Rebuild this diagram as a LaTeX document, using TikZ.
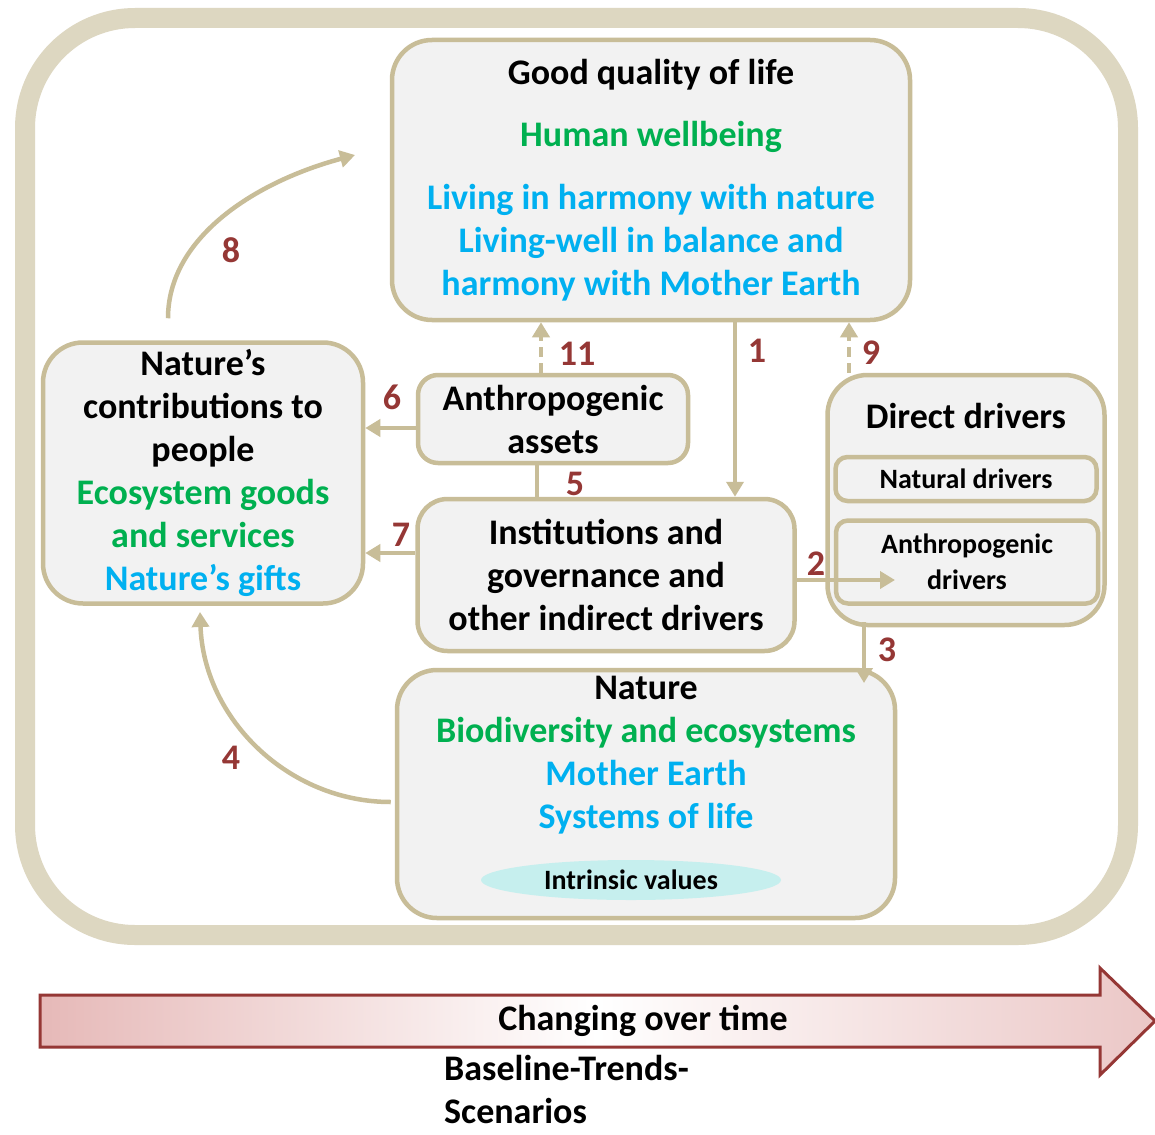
\documentclass[tikz,border=0pt]{standalone}
\usepackage{fontspec}
\setmainfont{Carlito}
\usetikzlibrary{shapes,arrows.meta}
\definecolor{bordertan}{HTML}{C8BD98}
\definecolor{frametan}{HTML}{DDD7C1}
\definecolor{boxgray}{HTML}{F2F2F2}
\definecolor{hwgreen}{HTML}{00B050}
\definecolor{hwblue}{HTML}{00B0F0}
\definecolor{numred}{HTML}{953735}
\definecolor{intrcyan}{HTML}{C6EFEE}
\definecolor{timepink}{HTML}{E6B9B8}
\begin{document}
\begin{tikzpicture}[x=1pt,y=-1pt,
    font=\fontsize{36}{43}\selectfont\bfseries,
    box/.style={draw=bordertan,line width=4.5pt,fill=boxgray,rounded corners=40pt,align=center,inner sep=0pt},
    subbox/.style={box,rounded corners=12pt,font=\fontsize{28}{36}\selectfont\bfseries},
    num/.style={text=numred},
    conn/.style={draw=bordertan,line width=4.5pt,-{Triangle[length=15pt,width=17pt]}},
    plainconn/.style={draw=bordertan,line width=4.5pt},
    dashconn/.style={conn,dash pattern=on 10pt off 6pt}]
		\useasboundingbox (0,0) rectangle (1155,1134);
		\fill[white] (0,0) rectangle (1155,1134);
		\draw[draw=frametan,line width=20pt,rounded corners=110pt] (25,18) rectangle (1128,935);
		\node[box,minimum width=518pt,minimum height=280pt] (quality) at (651,180)
			{Good quality of life\\[19pt]
			\textcolor{hwgreen}{Human wellbeing}\\[20pt]
			\textcolor{hwblue}{Living in harmony with nature}\\
			\textcolor{hwblue}{Living-well in balance and}\\
			\textcolor{hwblue}{harmony with Mother Earth}};
		\node[box,minimum width=320pt,minimum height=261pt] (ncp) at (203,473)
			{Nature’s\\contributions to\\people\\
			\textcolor{hwgreen}{Ecosystem goods}\\
			\textcolor{hwgreen}{and services}\\
			\textcolor{hwblue}{Nature’s gifts}};
		\node[box,rounded corners=20pt,minimum width=270pt,minimum height=88pt] (assets) at (553,419) {Anthropogenic\\assets};
		\node[box,rounded corners=30pt,minimum width=377pt,minimum height=152pt] (inst) at (606,575) {Institutions and\\governance and\\other indirect drivers};
		\node[box,minimum width=277pt,minimum height=250pt] (direct) at (966,500) {};
		\node (directtext) at (966,416) {Direct drivers};
		\node[subbox,minimum width=261pt,minimum height=44pt] (natural) at (966,479) {Natural drivers};
		\node[subbox,minimum width=262pt,minimum height=83pt] (anthdrv) at (967,562) {Anthropogenic\\drivers};
		\node[box,minimum width=498pt,minimum height=248pt] (nature) at (646,794) {};
		\node[align=center] (naturetext) at (646,755)
			{Nature\\
			\textcolor{hwgreen}{Biodiversity and ecosystems}\\
			\textcolor{hwblue}{Mother Earth}\\
			\textcolor{hwblue}{Systems of life}};
		\node[ellipse,fill=intrcyan,minimum width=300pt,minimum height=40pt,inner sep=0pt,font=\fontsize{28}{34}\selectfont\bfseries] (intrinsic) at (631,880) {Intrinsic values};
		\coordinate (qualin) at (355,155);
		\coordinate (ncpin) at (200,612);
		\coordinate (drvin) at (895,580);
		\coordinate (natin) at (864,683);
		\draw[conn] ([xshift=84pt]quality.south) -- ([xshift=84pt]quality.south |- inst.north);
		\draw[dashconn] ([xshift=-12pt]assets.north) -- ([xshift=-12pt]assets.north |- quality.south);
		\draw[dashconn] ([xshift=-117pt]direct.north) -- ([xshift=-117pt]direct.north |- quality.south);
		\draw[conn] ([yshift=-9pt]assets.west) -- ([yshift=-9pt]assets.west -| ncp.east);
		\draw[plainconn] ([xshift=-69pt]inst.north) -- ([xshift=-69pt]inst.north |- assets.south);
		\draw[conn] ([yshift=22pt]inst.west) -- ([yshift=22pt]inst.west -| ncp.east);
		\draw[conn] ([yshift=-5pt]inst.east) -- (drvin);
		\draw[conn] ([xshift=-102pt,yshift=5pt]direct.south) -- (natin);
		\draw[conn,shorten <=22pt] ([xshift=-35pt]ncp.north) to[out=90,in=195] (qualin);
		\draw[conn,shorten <=4pt] ([yshift=-8pt]nature.west) to[out=180,in=-88] (ncpin);
		\node[num] (n1) at (757,351) {1};
		\node[num] (n2) at (816,564) {2};
		\node[num] (n3) at (887,650) {3};
		\node[num] (n4) at (231,758) {4};
		\node[num] (n5) at (575,484) {5};
		\node[num] (n6) at (392,397) {6};
		\node[num] (n7) at (401,535) {7};
		\node[num] (n8) at (231,250) {8};
		\node[num] (n9) at (871,353) {9};
		\node[num] (n11) at (577,354) {11};
		\draw[draw=numred,line width=3pt,left color=timepink,right color=timepink!80,middle color=white]
			(40,995) -- (1100,995) -- (1100,968) -- (1155,1021) -- (1100,1075) -- (1100,1047) -- (40,1047) -- cycle;
		\node (changing) at (643,1021) {Changing over time};
		\node[align=left,anchor=west,inner sep=0pt] (scenarios) at (444,1089) {Baseline-Trends-\\Scenarios};
\end{tikzpicture}
\end{document}
